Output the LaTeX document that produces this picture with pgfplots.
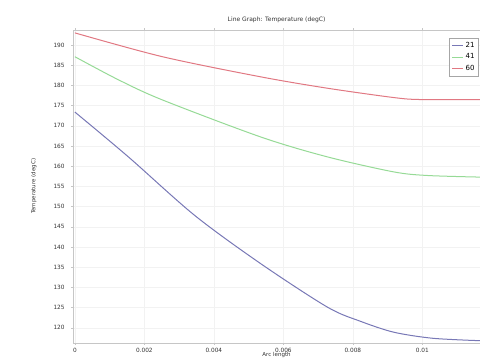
\documentclass[border=0pt]{standalone}
\usepackage{pgfplots}
\pgfplotsset{compat=1.18}
\usepackage{fontspec}
\setmainfont{DejaVu Sans}
\definecolor{cred}{RGB}{225,120,130}
\definecolor{cgreen}{RGB}{150,218,150}
\definecolor{cblue}{RGB}{120,120,182}
\begin{document}
\begin{tikzpicture}
\begin{axis}[
  name=ax,
  scale only axis,
  width=406pt, height=312pt,
  xmin=-0.00005, xmax=0.01166,
  ymin=116.3, ymax=193.7,
  xtick={0,0.002,0.004,0.006,0.008,0.01},
  ytick={120,125,...,190},
  scaled x ticks=false,
  xticklabel style={/pgf/number format/fixed,/pgf/number format/precision=3},
  yticklabel style={xshift=-3pt},
  /pgf/number format/assume math mode=true,
  tick label style={font=\fontsize{5.8}{6.5}\selectfont, text=black!80},
  label style={font=\fontsize{5.5}{6}\selectfont, text=black!80},
  title style={font=\fontsize{6}{7}\selectfont, text=black!80, yshift=-2pt},
  title={Line Graph: Temperature (degC)},
  xlabel={Arc length},
  ylabel={Temperature (degC)},
  xlabel style={yshift=7pt},
  ylabel style={yshift=10pt},
  axis line style={gray!45},
  major tick style={gray!45},
  tick align=outside,
  major tick length=2pt,
  grid=major,
  major grid style={gray!10},
  legend style={at={(0.997,0.975)}, anchor=north east, font=\fontsize{7}{8}\selectfont, draw=gray!70, inner sep=2pt, row sep=1pt},
  legend cell align=left,
  legend image code/.code={\draw[#1, line width=1pt] (0pt,0pt) -- (11pt,0pt);},
]
\addplot[cblue, line width=1pt, smooth] coordinates {
(0,173.4) (0.00154,162.3) (0.00345,147.8) (0.00536,135.8)
(0.00727,125.1) (0.00822,121.6) (0.00918,118.9) (0.0103,117.4) (0.01166,116.8)};
\addlegendentry{21}
\addplot[cgreen, line width=1pt, smooth] coordinates {
(0,187.1) (0.00125,181.4) (0.00252,176.4) (0.00536,167.2) (0.00727,162.3)
(0.00917,158.6) (0.01014,157.7) (0.01166,157.3)};
\addlegendentry{41}
\addplot[cred, line width=1pt, smooth] coordinates {
(0,193.0) (0.00252,187.1) (0.00536,182.1) (0.00727,179.3)
(0.00917,177.0) (0.00994,176.5) (0.01166,176.5)};
\addlegendentry{60}
\end{axis}
\pgfresetboundingbox
\path[use as bounding box] ([xshift=-73pt,yshift=-20pt]ax.south west) rectangle ([yshift=30pt]ax.north east);
\end{tikzpicture}
\end{document}
